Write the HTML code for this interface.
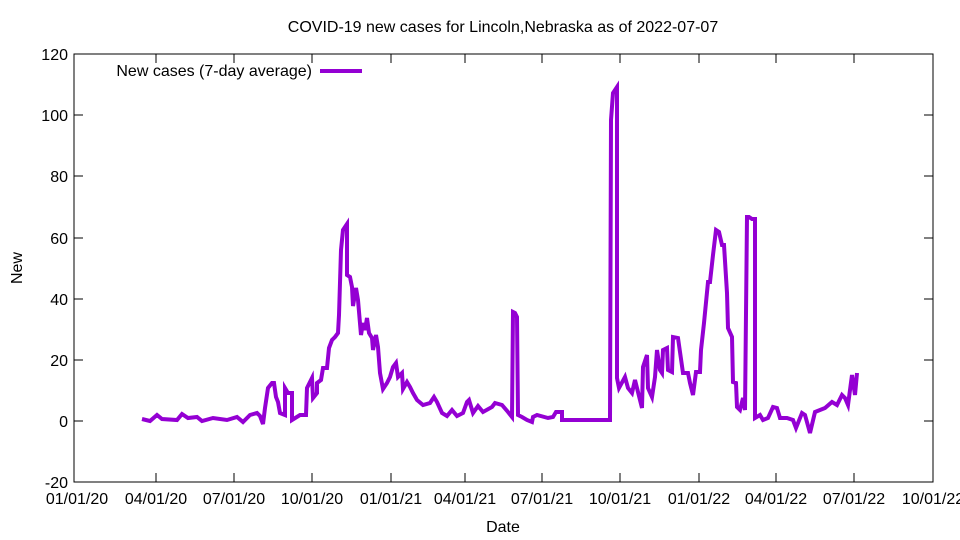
<!DOCTYPE html>
<html><head><meta charset="utf-8"><style>body{margin:0;background:#fff}svg{display:block}text{font-family:"Liberation Sans",sans-serif;font-size:16px;fill:#000}</style></head><body>
<svg width="960" height="540" xmlns="http://www.w3.org/2000/svg">
<rect x="74" y="54" width="859" height="428" fill="none" stroke="#000" stroke-width="1"/>
<g stroke="#000" stroke-width="1">
<line x1="74" y1="54" x2="83" y2="54"/><line x1="933" y1="54" x2="924" y2="54"/>
<line x1="74" y1="115" x2="83" y2="115"/><line x1="933" y1="115" x2="924" y2="115"/>
<line x1="74" y1="176" x2="83" y2="176"/><line x1="933" y1="176" x2="924" y2="176"/>
<line x1="74" y1="238" x2="83" y2="238"/><line x1="933" y1="238" x2="924" y2="238"/>
<line x1="74" y1="299" x2="83" y2="299"/><line x1="933" y1="299" x2="924" y2="299"/>
<line x1="74" y1="360" x2="83" y2="360"/><line x1="933" y1="360" x2="924" y2="360"/>
<line x1="74" y1="421" x2="83" y2="421"/><line x1="933" y1="421" x2="924" y2="421"/>
<line x1="156" y1="482" x2="156" y2="473"/><line x1="156" y1="54" x2="156" y2="63"/>
<line x1="234" y1="482" x2="234" y2="473"/><line x1="234" y1="54" x2="234" y2="63"/>
<line x1="312" y1="482" x2="312" y2="473"/><line x1="312" y1="54" x2="312" y2="63"/>
<line x1="391" y1="482" x2="391" y2="473"/><line x1="391" y1="54" x2="391" y2="63"/>
<line x1="465" y1="482" x2="465" y2="473"/><line x1="465" y1="54" x2="465" y2="63"/>
<line x1="542" y1="482" x2="542" y2="473"/><line x1="542" y1="54" x2="542" y2="63"/>
<line x1="620" y1="482" x2="620" y2="473"/><line x1="620" y1="54" x2="620" y2="63"/>
<line x1="699" y1="482" x2="699" y2="473"/><line x1="699" y1="54" x2="699" y2="63"/>
<line x1="776" y1="482" x2="776" y2="473"/><line x1="776" y1="54" x2="776" y2="63"/>
<line x1="854" y1="482" x2="854" y2="473"/><line x1="854" y1="54" x2="854" y2="63"/>
</g>
<g text-anchor="end">
<text x="68" y="60">120</text><text x="68" y="121">100</text><text x="68" y="182">80</text><text x="68" y="244">60</text><text x="68" y="305">40</text><text x="68" y="366">20</text><text x="68" y="427">0</text><text x="68" y="488">-20</text>
</g>
<g text-anchor="middle">
<text x="77" y="504">01/01/20</text><text x="156" y="504">04/01/20</text><text x="234" y="504">07/01/20</text><text x="312" y="504">10/01/20</text><text x="391" y="504">01/01/21</text><text x="465" y="504">04/01/21</text><text x="542" y="504">07/01/21</text><text x="620" y="504">10/01/21</text><text x="699" y="504">01/01/22</text><text x="776" y="504">04/01/22</text><text x="854" y="504">07/01/22</text><text x="933" y="504">10/01/22</text>
<text x="503" y="532">Date</text>
<text x="503" y="32">COVID-19 new cases for Lincoln,Nebraska as of 2022-07-07</text>
</g>
<text x="22" y="268" text-anchor="middle" transform="rotate(-90 22 268)">New</text>
<text x="312" y="76" text-anchor="end">New cases (7-day average)</text>
<line x1="320" y1="71" x2="362" y2="71" stroke="#9400d3" stroke-width="4"/>
<polyline fill="none" stroke="#9400d3" stroke-width="4" stroke-linejoin="miter" points="142,419 150,421 157,415 162,419 177,420 182,414 188,418 197,417 202,421 213,418 227,420 237,417 243,422 250,415 257,413 260,416 263,424 265,408 268,388 272,383 274,383 276,397 278,402 280,413 285,415 285,388 288,393 292,393 292,420 300,415 306,415 307,388 312,378 313,398 317,393 317,383 321,380 323,368 327,368 329,348 332,340 335,337 338,333 339,315 341,250 343,230 347,224 347,275 350,277 352,287 353,306 356,288 358,300 361,335 363,323 365,330 367,318 369,333 372,338 373,350 376,335 378,347 380,373 383,389 387,383 390,377 393,367 396,363 398,377 402,373 403,389 407,382 410,387 413,393 417,400 423,405 430,403 434,397 437,402 442,413 447,416 452,410 457,416 463,413 467,402 469,400 473,413 478,406 483,412 492,407 495,403 502,405 508,412 512,417 513,312 515,313 517,317 518,415 522,417 527,420 532,422 533,417 537,415 548,418 553,417 556,412 562,412 562,420 610,420 611,120 613,93 617,87 617,378 619,388 625,377 628,388 632,393 635,380 638,392 642,408 643,367 647,355 648,388 652,397 655,377 657,350 660,370 662,373 663,350 667,348 668,370 672,372 673,337 678,338 680,352 683,373 688,373 690,383 693,395 696,372 700,372 701,350 704,323 708,282 710,282 713,255 716,230 719,232 722,245 724,245 727,293 728,328 732,337 733,382 736,383 737,407 740,410 743,398 745,410 747,217 749,217 752,219 755,219 755,418 760,415 763,420 768,418 773,407 777,408 780,418 787,418 793,420 796,428 802,413 805,415 810,433 815,412 820,410 825,408 832,402 837,405 842,395 845,398 848,405 852,375 855,395 857,373"/>
</svg>
</body></html>
